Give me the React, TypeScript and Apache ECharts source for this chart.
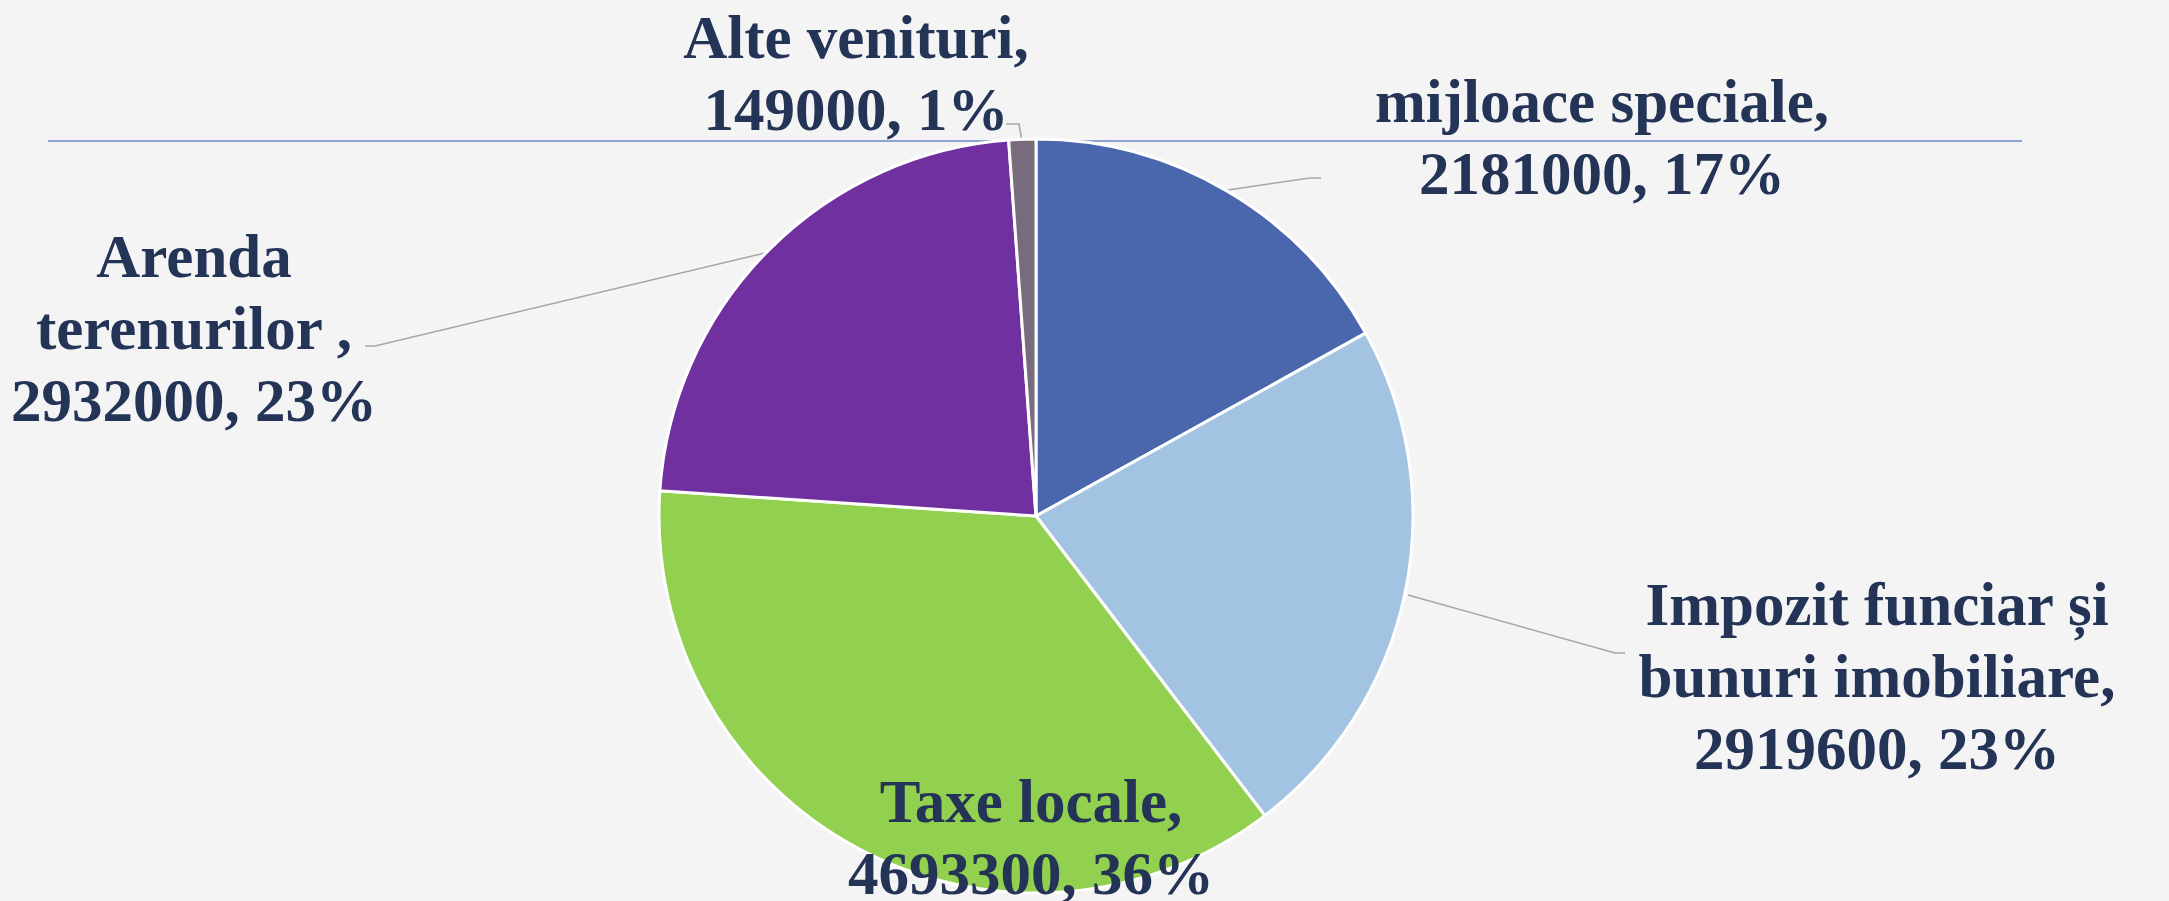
import React, { useEffect, useRef } from "react";
import * as echarts from "echarts";

const categories = [
  "mijloace speciale",
  "Impozit funciar și\nbunuri imobiliare",
  "Taxe locale",
  "Arenda\nterenurilor ",
  "Alte venituri",
];
const values = [2181000, 2919600, 4693300, 2932000, 149000];
const colors = ["#4A66AC", "#A2C4E2", "#92D050", "#7030A0", "#786B7C"];

// label block centres (layout only)
const labelPos: number[][] = [
  [1602, 137],
  [1877, 676],
  [1031, 837],
  [194, 328],
  [856, 73],
];
const leaderPts: (number[][] | null)[] = [
  [[1228, 190], [1310, 178], [1321, 178]],
  [[1408, 595], [1615, 653], [1625, 653]],
  null,
  [[769, 252], [375, 346], [365, 346]],
  [[1022, 141], [1019, 124], [1006, 124]],
];

export default function App() {
  const ref = useRef<HTMLDivElement>(null);
  useEffect(() => {
    document.body.style.margin = "0";
    const chart = echarts.init(ref.current!, null, { renderer: "svg" });
    chart.setOption({
      animation: false,
      backgroundColor: "#F4F4F4",
      graphic: [
        {
          type: "line",
          z: 0,
          shape: { x1: 48, y1: 141, x2: 2022, y2: 141 },
          style: { stroke: "#8FA2D4", lineWidth: 2 },
        },
      ],
      series: [
        {
          type: "pie",
          z: 5,
          center: [1036, 516],
          radius: 377,
          startAngle: 90,
          clockwise: true,
          avoidLabelOverlap: false,
          itemStyle: { borderColor: "#FFFFFF", borderWidth: 3 },
          label: {
            show: true,
            position: "outside",
            fontFamily: "Liberation Serif",
            fontWeight: "bold",
            fontSize: 61,
            lineHeight: 72,
            color: "#243457",
            align: "center",
            formatter: (p: any) =>
              `${p.name},\n${p.value}, ${Math.round(p.percent)}%`,
          },
          labelLine: {
            show: true,
            lineStyle: { color: "#A6A6A6", width: 1.5 },
          },
          labelLayout: (params: any) => {
            const i = params.dataIndex;
            const out: any = {
              x: labelPos[i][0],
              y: labelPos[i][1],
              align: "center",
              verticalAlign: "middle",
            };
            if (leaderPts[i]) out.labelLinePoints = leaderPts[i];
            return out;
          },
          data: categories.map((c, i) => ({
            name: c,
            value: values[i],
            itemStyle: { color: colors[i] },
            ...(leaderPts[i] ? {} : { labelLine: { show: false } }),
          })),
        },
      ],
    });
    return () => chart.dispose();
  }, []);
  return <div ref={ref} style={{ width: 2169, height: 901 }} />;
}
